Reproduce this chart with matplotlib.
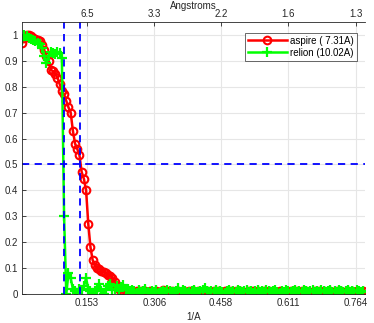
import numpy as np
import matplotlib
matplotlib.use("Agg")
import matplotlib.pyplot as plt

plt.rcParams["font.family"] = ["Liberation Sans", "DejaVu Sans"]
plt.rcParams["font.size"] = 7

# FSC shells (1/A)
freq = np.linspace(0.006, 0.781, 156)

aspire_fsc = [
    0.97, 0.99, 1.0, 1.0, 0.995, 0.99, 0.985, 0.98, 0.975, 0.96,
    0.94, 0.92, 0.90, 0.865, 0.86, 0.85, 0.835, 0.81, 0.785, 0.77,
    0.745, 0.72, 0.70, 0.63, 0.58, 0.56, 0.535, 0.47, 0.445, 0.40,
    0.27, 0.18, 0.13, 0.11, 0.10, 0.095, 0.09, 0.085, 0.08, 0.075,
    0.07, 0.06, 0.045, 0.03, 0.02, 0.012, 0.008, 0.01, 0.006, 0.012,
    0.009, 0.005, 0.011, 0.007, 0.013, 0.006, 0.01, 0.004, 0.012, 0.008,
    0.006, 0.011, 0.009, 0.005, 0.014, 0.007, 0.01, 0.006, 0.012, 0.008,
    0.005, 0.01, 0.007, 0.013, 0.006, 0.009, 0.011, 0.005, 0.01, 0.007,
    0.012, 0.006, 0.009, 0.004, 0.011, 0.008, 0.006, 0.012, 0.007, 0.01,
    0.005, 0.009, 0.013, 0.006, 0.008, 0.011, 0.005, 0.01, 0.007, 0.012,
    0.006, 0.009, 0.004, 0.011, 0.008, 0.013, 0.006, 0.01, 0.005, 0.009,
    0.012, 0.007, 0.01, 0.005, 0.011, 0.008, 0.006, 0.012, 0.009, 0.005,
    0.01, 0.007, 0.013, 0.006, 0.009, 0.011, 0.005, 0.01, 0.008, 0.012,
    0.006, 0.009, 0.004, 0.011, 0.007, 0.013, 0.006, 0.01, 0.008, 0.005,
    0.011, 0.009, 0.006, 0.012, 0.007, 0.01, 0.005, 0.009, 0.012, 0.006,
    0.01, 0.008, 0.011, 0.006, 0.009, 0.012,
]

relion_fsc = [
    0.98, 1.0, 0.995, 0.99, 0.985, 0.98, 0.975, 0.97, 0.965, 0.95,
    0.92, 0.89, 0.92, 0.935, 0.93, 0.925, 0.935, 0.93, 0.91, 0.30,
    0.0, 0.08, 0.06, 0.02, 0.01, 0.005, 0.02, 0.015, 0.03, 0.06,
    0.02, 0.01, 0.0, 0.01, 0.02, 0.04, 0.01, 0.0, 0.02, 0.03,
    0.04, 0.015, 0.02, 0.03, 0.01, 0.025, 0.035, 0.015, 0.02, 0.01,
    0.015, 0.01, 0.005, 0.015, 0.008, 0.012, 0.018, 0.006, 0.004, 0.012,
    0.008, 0.015, 0.004, 0.008, 0.012, 0.006, 0.016, 0.01, 0.007, 0.004,
    0.012, 0.022, 0.008, 0.016, 0.01, 0.004, 0.008, 0.012, 0.016, 0.006,
    0.008, 0.012, 0.016, 0.022, 0.012, 0.006, 0.01, 0.007, 0.015, 0.006,
    0.012, 0.008, 0.004, 0.01, 0.016, 0.006, 0.012, 0.007, 0.015, 0.01,
    0.006, 0.012, 0.016, 0.007, 0.01, 0.004, 0.012, 0.016, 0.007, 0.01,
    0.006, 0.015, 0.01, 0.006, 0.012, 0.016, 0.007, 0.004, 0.01, 0.006,
    0.015, 0.01, 0.006, 0.012, 0.016, 0.007, 0.01, 0.006, 0.015, 0.01,
    0.006, 0.012, 0.016, 0.007, 0.01, 0.006, 0.015, 0.01, 0.006, 0.012,
    0.016, 0.007, 0.01, 0.006, 0.015, 0.01, 0.006, 0.012, 0.016, 0.007,
    0.01, 0.006, 0.015, 0.01, 0.006, 0.012,
]

aspire_res = 7.31
relion_res = 10.02

xticks = [0.153, 0.306, 0.458, 0.611, 0.764]
xtick_labels = ["0.153", "0.306", "0.458", "0.611", "0.764"]
top_labels = ["6.5", "3.3", "2.2", "1.6", "1.3"]
yticks = [0, 0.1, 0.2, 0.3, 0.4, 0.5, 0.6, 0.7, 0.8, 0.9, 1]
ytick_labels = ["0", "0.1", "0.2", "0.3", "0.4", "0.5", "0.6", "0.7", "0.8", "0.9", "1"]

txt = (0.15, 0.15, 0.15)
grid_c = (0.9, 0.9, 0.9)

fig = plt.figure(figsize=(3.74, 3.23), dpi=100)
ax = fig.add_axes([0.059, 0.09, 0.917, 0.842])

ax.plot(freq, aspire_fsc, "-o", color="red", lw=1.8, ms=5.5, mfc="none", mew=1.5,
        label=f"aspire ( {aspire_res:.2f}A)")
ax.plot(freq, relion_fsc, "-+", color=(0, 1, 0), lw=1.8, ms=6.5, mew=1.6,
        label=f"relion ({relion_res:.2f}A)")

ax.axvline(1 / relion_res, color="blue", ls=(0, (4, 3)), lw=1.3)
ax.axvline(1 / aspire_res, color="blue", ls=(0, (4, 3)), lw=1.3)
ax.axhline(0.5, color="blue", ls=(0, (4, 3)), lw=1.3)

ax.set_xlim(0.0055, 0.785)
ax.set_ylim(0, 1.05)
ax.set_xticks(xticks)
ax.set_xticklabels(xtick_labels)
ax.set_yticks(yticks)
ax.set_yticklabels(ytick_labels)
ax.grid(True, color=grid_c, lw=0.8)
ax.set_axisbelow(True)
ax.tick_params(direction="in", length=3, colors=txt, labelsize=7, pad=3, width=0.6)
for s in ["left", "bottom"]:
    ax.spines[s].set_color(txt)
    ax.spines[s].set_linewidth(0.6)
ax.spines["right"].set_visible(False)
ax.spines["top"].set_visible(False)
ax.set_xlabel("1/A", color=txt, fontsize=7, labelpad=3)

top = ax.twiny()
top.set_xlim(ax.get_xlim())
top.set_xticks(xticks)
top.set_xticklabels(top_labels)
top.tick_params(direction="in", length=3, colors=txt, labelsize=7, pad=2, width=0.6)
top.spines["top"].set_color(txt)
top.spines["top"].set_linewidth(0.6)
for s in ["left", "bottom", "right"]:
    top.spines[s].set_visible(False)
top.set_xlabel("Angstroms", color=txt, fontsize=7, labelpad=0)

leg = ax.legend(loc="upper right", bbox_to_anchor=(0.977, 0.96), borderaxespad=0,
                fontsize=7, frameon=True, fancybox=False, handlelength=4.0,
                handletextpad=0.4, borderpad=0.3, labelspacing=0.2)
leg.get_frame().set_edgecolor(txt)
leg.get_frame().set_linewidth(0.6)
for t in leg.get_texts():
    t.set_color("black")

fig.savefig("out.png", dpi=100)
